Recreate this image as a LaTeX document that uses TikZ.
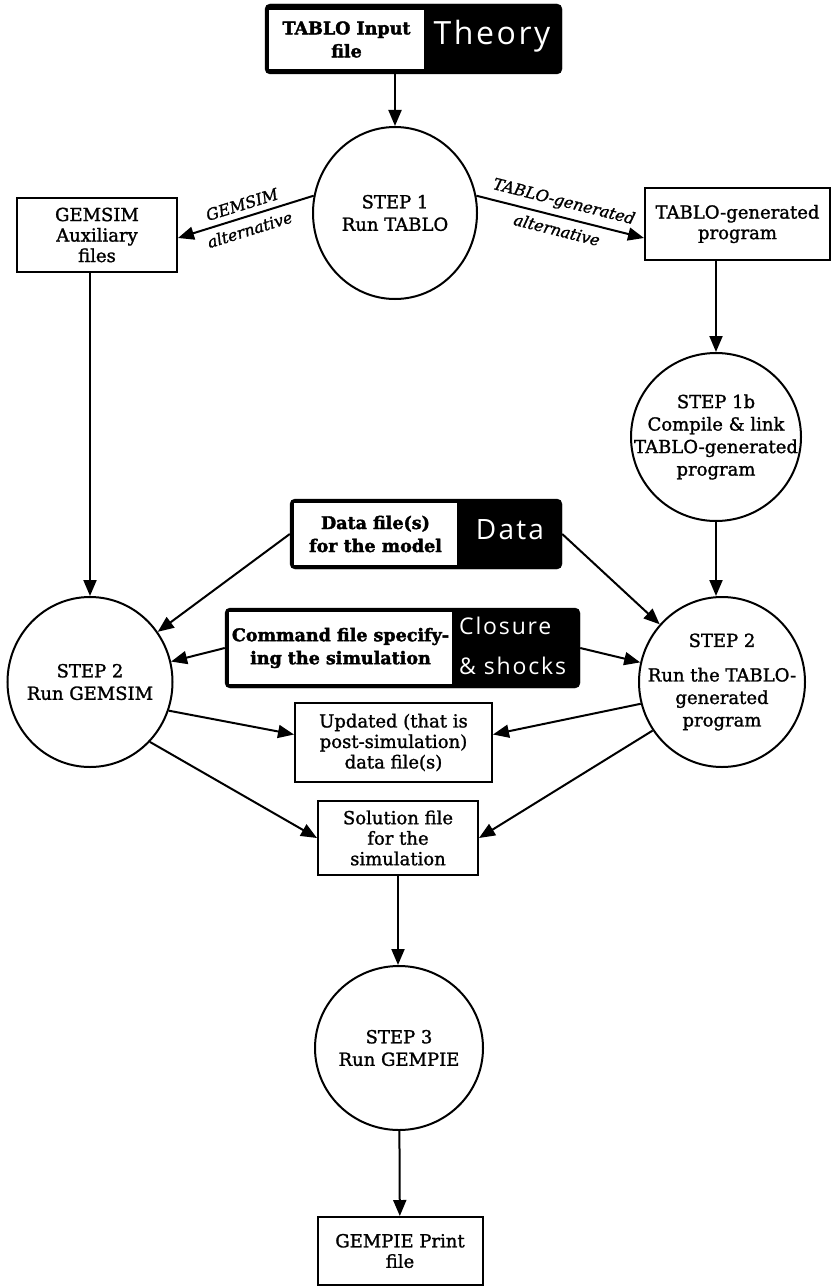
\documentclass[tikz,border=0pt]{standalone}
\usepackage{fontspec}
\setmainfont{DejaVu Serif}[UprightFeatures={FakeBold=1.4}, ItalicFeatures={FakeBold=1.2}, BoldFeatures={FakeBold=2}]
\newfontfamily\lblfont[LetterSpace=8]{Open Sans}
\usetikzlibrary{arrows.meta,shapes.geometric}
\tikzset{
  stepnode/.style={ellipse, draw, line width=2pt, inner xsep=-40pt, inner ysep=-30pt, align=center, font=\fontsize{18}{22.5}\selectfont},
  filebox/.style={rectangle, draw, line width=2pt, fill=white, inner sep=0pt, align=center, font=\fontsize{18}{20.5}\selectfont},
  inbox/.style={rectangle, draw, line width=1.5pt, fill=white, inner sep=0pt, align=center, font=\bfseries\fontsize{17.5}{23}\selectfont},
  darkbox/.style={rectangle, rounded corners=5pt, fill=black, draw=black, inner sep=0pt},
  wlab/.style={text=white, inner sep=0pt, font=\lblfont\fontsize{32}{32}\selectfont},
  flow/.style={line width=2pt, -{Triangle[length=16pt,width=13pt]}},
  altlab/.style={font=\itshape\fontsize{16}{18}\selectfont, sloped, inner sep=6pt}
}

\begin{document}
\begin{tikzpicture}[x=1pt,y=-1pt]
\useasboundingbox (0,0) rectangle (833,1287);
% input files
\node[darkbox, minimum width=297, minimum height=70] (thb) at (413.5,39) {};
\node[inbox, minimum width=157, minimum height=61] (tin) at (346.5,39.5) {TABLO Input\\file};
\node[wlab] (thl) at (492,36) {Theory};
\node[darkbox, minimum width=272, minimum height=70] (datb) at (426,534) {};
\node[inbox, minimum width=165, minimum height=64] (dat) at (375.5,534) {Data file(s)\\for the model};
\node[wlab, font=\lblfont\fontsize{28}{28}\selectfont] (datl) at (510,530) {Data};
\node[darkbox, minimum width=355, minimum height=80] (cmdb) at (402.5,648) {};
\node[inbox, minimum width=225, minimum height=74] (cmd) at (340.5,648) {Command file specify-\\ing the simulation};
\node[wlab, anchor=west, align=left, font=\lblfont\fontsize{23}{40}\selectfont] (cmdl) at (459,646) {Closure\\\& shocks};

% steps and files
\node[stepnode, minimum width=164, minimum height=172] (s1) at (395,213) {STEP 1\\Run TABLO};
\node[filebox, minimum width=160, minimum height=74] (gaux) at (97,235) {GEMSIM\\Auxiliary\\files};
\node[filebox, minimum width=185, minimum height=72] (tgp) at (737.5,224) {TABLO-generated\\program};
\node[stepnode, minimum width=170, minimum height=168] (s1b) at (716,437) {STEP 1b\\Compile \& link\\TABLO-generated\\program};
\node[stepnode, minimum width=165, minimum height=170] (s2l) at (90,682) {STEP 2\\Run GEMSIM};
\node[stepnode, minimum width=166, minimum height=170] (s2r) at (722,682) {STEP 2\\[12pt]Run the TABLO-\\generated\\program};
\node[filebox, minimum width=197, minimum height=79] (upd) at (393.5,742.5) {Updated (that is\\post-simulation)\\data file(s)};
\node[filebox, minimum width=160, minimum height=74] (sol) at (398,838) {Solution file\\for the\\simulation};
\node[stepnode, minimum width=168, minimum height=164] (s3) at (399,1048) {STEP 3\\Run GEMPIE};
\node[filebox, minimum width=165, minimum height=68] (prt) at (400,1251) {GEMPIE Print\\file};

% connectors
\draw[flow] (thb.south -| s1) -- (s1);
\draw[flow] (s1.168) -- ([yshift=-3pt]gaux.east)
  node[midway, altlab, above] {GEMSIM} node[midway, altlab, below] {alternative};
\draw[flow] (s1.12) -- ([yshift=-14pt]tgp.west)
  node[midway, altlab, above] {TABLO-generated} node[midway, altlab, below] {alternative};
\draw[flow] (gaux.south -| s2l) -- (s2l);
\draw[flow] (tgp.south -| s1b) -- (s1b);
\draw[flow] (s1b) -- (s1b |- s2r.north);
\draw[flow] (datb.west) -- (s2l);
\draw[flow] (cmdb.west) -- (s2l);
\draw[flow] (datb.east) -- (s2r);
\draw[flow] (cmdb.east) -- (s2r);
\draw[flow] (s2l.-20) -- ([yshift=8pt]upd.west);
\draw[flow] (s2l.-45) -- (sol.west);
\draw[flow] (s2r.195) -- ([yshift=8pt]upd.east);
\draw[flow] (s2r.215) -- (sol.east);
\draw[flow] (sol.south) -- (sol.south |- s3.north);
\draw[flow] (s3) -- (prt);
\end{tikzpicture}
\end{document}
